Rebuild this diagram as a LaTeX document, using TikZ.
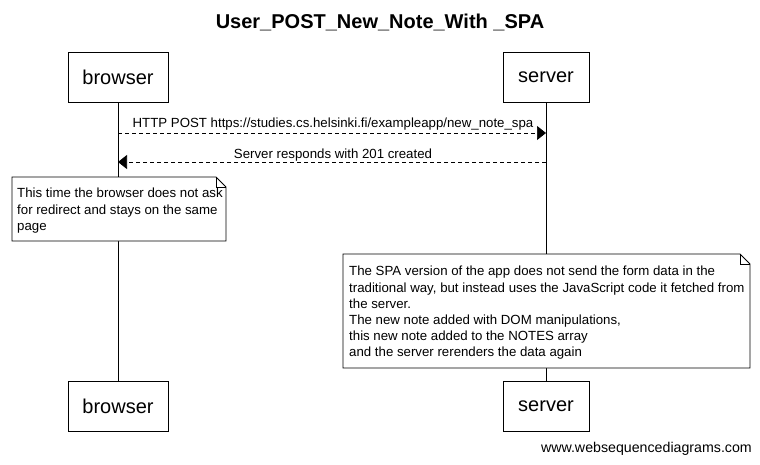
\documentclass[tikz,border=0pt]{standalone}
\usepackage{fontspec}
\setmainfont{Liberation Sans}
\usetikzlibrary{arrows.meta}
\begin{document}
\begin{tikzpicture}[x=1pt,y=-1pt,
  actor/.style={draw,line width=0.8pt,fill=white,minimum height=50pt,font=\fontsize{20}{24}\selectfont,inner sep=0pt},
  msg/.style={line width=0.7pt,dash pattern=on 4pt off 3pt,-{Triangle[length=9pt,width=14pt]}},
  msglabel/.style={font=\fontsize{13.25}{15}\selectfont,inner sep=1pt},
  notetext/.style={font=\fontsize{13.25}{16.4}\selectfont,align=left,anchor=north west,inner sep=0pt},
  life/.style={line width=0.8pt}]
\useasboundingbox (0,0) rectangle (760,464);
\fill[white] (0,0) rectangle (760,464);
\node[font=\bfseries\fontsize{20}{24}\selectfont] (title) at (380,22) {User\_POST\_New\_Note\_With \_SPA};
% lifelines
\node[actor,minimum width=100pt] (b1) at (118,77) {browser};
\node[actor,minimum width=86pt] (s1) at (546,77) {server};
\node[actor,minimum width=100pt] (b2) at (118,406) {browser};
\node[actor,minimum width=86pt] (s2) at (546,406) {server};
\draw[life] (b1.south) -- (b2.north);
\draw[life] (s1.south) -- (s2.north);
% messages
\coordinate (m1a) at (118,133);
\coordinate (m1b) at (546,133);
\coordinate (m2a) at (546,162);
\coordinate (m2b) at (118,162);
\draw[msg] (m1a) -- (m1b);
\node[msglabel] (l1) at (333,124) {HTTP POST https://studies.cs.helsinki.fi/exampleapp/new\_note\_spa};
\draw[msg] (m2a) -- (m2b);
\node[msglabel] (l2) at (333,155) {Server responds with 201 created};
% note 1
\draw[line width=0.8pt,fill=white] (12,177) -- (216,177) -- (226,187) -- (226,241) -- (12,241) -- cycle;
\draw[line width=0.6pt] (216,177) -- (216,187) -- (226,187);
\node[notetext] (n1) at (17,188) {This time the browser does not ask\\for redirect and stays on the same\\page};
% note 2
\draw[line width=0.8pt,fill=white] (343,254) -- (740,254) -- (750,264) -- (750,368) -- (343,368) -- cycle;
\draw[line width=0.6pt] (740,254) -- (740,264) -- (750,264);
\node[notetext,font=\fontsize{13.25}{16.2}\selectfont] (n2) at (349,266) {The SPA version of the app does not send the form data in the\\traditional way, but instead uses the JavaScript code it fetched from\\the server.\\The new note added with DOM manipulations,\\this new note added to the NOTES array\\and the server rerenders the data again};
\node[font=\fontsize{14.2}{16}\selectfont,anchor=east,inner sep=0pt] (foot) at (752,449) {www.websequencediagrams.com};
\end{tikzpicture}
\end{document}
